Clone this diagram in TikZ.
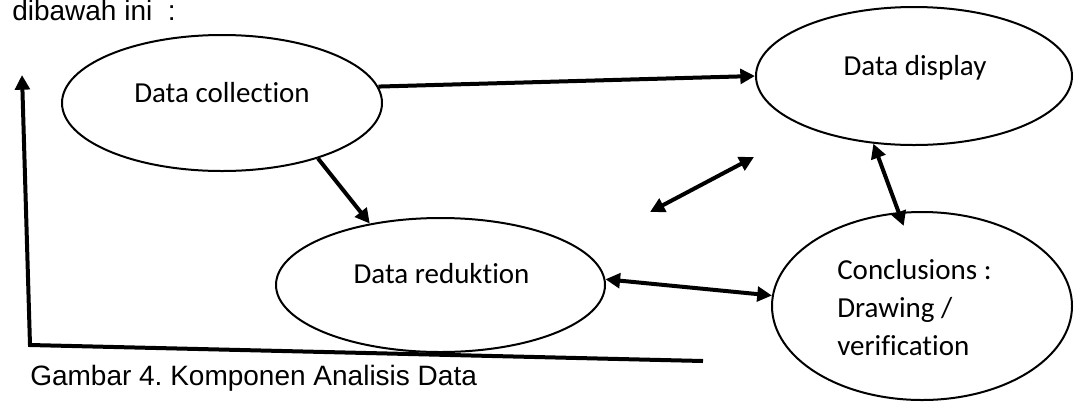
\documentclass[tikz,border=0pt]{standalone}
\usepackage{fontspec}
\setmainfont{Carlito}[Ligatures={NoCommon}]
\newfontfamily\arialfont{Liberation Sans}
\usepackage{tikz}
\usetikzlibrary{shapes.geometric}
\usetikzlibrary{arrows.meta}
\frenchspacing

\begin{document}
\begin{tikzpicture}[x=0.75pt,y=0.75pt,yscale=-1,xscale=1,
  oval/.style={ellipse, draw, line width=1.5pt, inner sep=0pt},
  lbl/.style={inner sep=0pt, font=\fontsize{21.75}{28.5}\selectfont},
  capt/.style={inner sep=0pt, font=\arialfont\fontsize{21}{25}\selectfont},
  arr/.style={line width=3pt, -{Triangle[length=11pt,width=11pt]}},
  darr/.style={line width=3pt, {Triangle[length=11pt,width=11pt]}-{Triangle[length=11pt,width=11pt]}}]
\useasboundingbox (0,0) rectangle (1077,401);

%Shape: Ellipse
\node [oval, minimum width=240pt, minimum height=102pt] (collect) at (222,103) {};
%Shape: Ellipse
\node [oval, minimum width=237pt, minimum height=103.5pt] (display) at (914,76) {};
%Shape: Ellipse
\node [oval, minimum width=246.75pt, minimum height=100.5pt] (reduk) at (440.5,285) {};
%Shape: Ellipse
\node [oval, minimum width=225pt, minimum height=141pt] (conclu) at (922,306) {};

% Text Node
\node [lbl, anchor=base] (collecttxt) at (222,102) {Data collection};
% Text Node
\node [lbl, anchor=base] (displaytxt) at (915,75) {Data display};
% Text Node
\node [lbl, anchor=base] (reduktxt) at (441.5,283) {Data reduktion};
% Text Node
\node [lbl, anchor=base west] (conclutxt) at (837,279) {\begin{tabular}[t]{@{}l@{}}Conclusions :\\Drawing /\\verification\end{tabular}};
% Text Node
\node [capt, anchor=base west] (intro) at (12,20) {dibawah ini\ \ :};
% Text Node
\node [capt, anchor=base west] (caption) at (30,385) {Gambar 4. Komponen Analisis Data};

%Straight Lines
\coordinate (fl1) at (650,212);
\coordinate (fl2) at (754,157);
\coordinate (fbstart) at (703,361);
\coordinate (fbcorner) at (30,345);
\coordinate (fbend) at (22,75);

\draw [arr] (collect.6) -- (display.west);
\draw [arr] (collect.-30) -- (reduk.139);
\draw [darr] (fl1) -- (fl2);
\draw [darr, shorten >=-11pt] (display.239) -- (conclu.104);
\draw [darr] (reduk.2) -- (conclu.176);
\draw [arr] (fbstart) -- (fbcorner) -- (fbend);

\end{tikzpicture}
\end{document}
